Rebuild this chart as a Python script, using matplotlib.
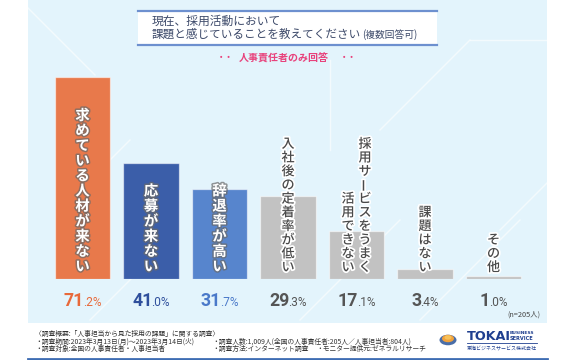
import matplotlib
matplotlib.use("Agg")
import matplotlib.pyplot as plt
import matplotlib.patheffects as pe
from matplotlib.patches import Rectangle, Circle
from matplotlib.lines import Line2D

plt.rcParams['font.family'] = ['Noto Sans CJK JP', 'DejaVu Sans']

# ---- data ----
categories = ["求めている人材が来ない", "応募が来ない", "辞退率が高い", "入社後の定着率が低い",
              "採用サービスをうまく\n活用できない", "課題はない", "その他"]
values = [71.2, 41.0, 31.7, 29.3, 17.1, 3.4, 1.0]
bar_colors = ["#e8794b", "#3b5ea9", "#5785cd", "#c2c2c2", "#c2c2c2", "#c2c2c2", "#c2c2c2"]
pct_colors = ["#e8693a", "#2f4f9c", "#4a79c9", "#555555", "#555555", "#555555", "#555555"]
title_lines = ["現在、採用活動において", "課題と感じていることを教えてください"]
title_note = "(複数回答可)"
subtitle = "人事責任者のみ回答"
n_note = "(n=205人)"
footer = ["〈調査概要:「人事担当から見た採用の課題」に関する調査〉",
          "・調査期間:2023年3月13日(月)～2023年3月14日(火)",
          "・調査対象:全国の人事責任者・人事担当者",
          "・調査人数:1,009人(全国の人事責任者:205人／人事担当者:804人)",
          "・調査方法:インターネット調査",
          "・モニター提供元:ゼネラルリサーチ"]

W, H = 580, 360
fig = plt.figure(figsize=(W / 100, H / 100), dpi=100, facecolor="white")

def fx(x):
    return x / W

def fy(y):
    return 1 - y / H

# background panel
fig.patches.append(Rectangle((fx(28), fy(323)), fx(547) - fx(28), fy(0) - fy(323),
                             transform=fig.transFigure, facecolor="#e3f4fc", edgecolor="none", zorder=-3))
# faint circuit-like lines
for (x0, y0, x1, y1) in [(28, 8, 95, 75), (60, 210, 130, 140), (380, 130, 470, 40), (470, 40, 547, 40),
                         (300, 320, 400, 220), (420, 320, 520, 220), (500, 230, 547, 183),
                         (90, 320, 150, 260), (330, 150, 330, 60), (200, 40, 330, 40)]:
    fig.add_artist(Line2D([fx(x0), fx(x1)], [fy(y0), fy(y1)], transform=fig.transFigure,
                          color="white", lw=1.0, alpha=0.6, zorder=-2))
# bottom blue line
fig.add_artist(Line2D([fx(28), fx(547)], [fy(358.5), fy(358.5)], transform=fig.transFigure,
                      color="#3e6db3", lw=2.0, zorder=1))

# title box
fig.patches.append(Rectangle((fx(138), fy(45)), fx(437) - fx(138), fy(11) - fy(45),
                             transform=fig.transFigure, facecolor="white", edgecolor="none", zorder=1))
for yy in (11, 45):
    fig.add_artist(Line2D([fx(138), fx(437)], [fy(yy), fy(yy)], transform=fig.transFigure,
                          color="#6d90cf", lw=1.6, zorder=2))
title_col = "#3d4a6a"
fig.text(fx(152), fy(21), title_lines[0], fontsize=8.5, color=title_col, va="center", ha="left", zorder=3)
fig.text(fx(152), fy(34), title_lines[1], fontsize=8.35, color=title_col, va="center", ha="left", zorder=3)
fig.text(fx(362), fy(34.5), title_note, fontsize=7.0, color=title_col, va="center", ha="left", zorder=3)

pink = "#e8427c"
fig.text(fx(284), fy(59), subtitle, fontsize=7.2, color=pink, va="center", ha="center", fontweight="bold")
fig.text(fx(225), fy(58), "・・", fontsize=6, color=pink, va="center", ha="center", fontweight="bold")
fig.text(fx(348), fy(58), "・・", fontsize=6, color=pink, va="center", ha="center", fontweight="bold")

# ---- chart axes ----
ax = fig.add_axes([fx(48.25), fy(279), 479.5 / W, 219 / H])
ax.set_zorder(1)
ax.set_xlim(-0.5, len(values) - 0.5)
ax.set_ylim(0, 77.3)
ax.axis("off")
ax.patch.set_alpha(0)

xs = list(range(len(values)))
ax.bar(xs, values, width=0.803, color=bar_colors, edgecolor=(1, 1, 1, 0.55), linewidth=0.9, zorder=2)

# vertical labels
for i, lab in enumerate(categories):
    colored = i < 3
    cols = lab.split("\n")
    pitch = 15.1 if colored else 13.7
    fs = 10.3 if colored else 9.4
    if colored:
        kw = dict(color="white", fontweight="bold",
                  path_effects=[pe.Stroke(linewidth=2.2, foreground="#6a6a6a", alpha=0.7), pe.Normal()])
    else:
        kw = dict(color="#4a4a4a", fontweight="medium",
                  path_effects=[pe.Stroke(linewidth=2.5, foreground="white"), pe.Normal()])
    ncol = len(cols)
    for c, text in enumerate(cols):
        dx = 0 if ncol == 1 else (8.5 - 17 * c)
        chars = list(text)
        n = len(chars)
        for k, ch in enumerate(chars):
            from_bottom = n - 1 - k
            ax.annotate(ch, xy=(i, 0), xycoords="data",
                        xytext=(dx, 4.5 + pitch * (from_bottom + 0.5)), textcoords="offset pixels",
                        ha="center", va="center", fontsize=fs,
                        rotation=90 if ch == "ー" else 0, zorder=4, annotation_clip=False, **kw)

# percentage labels (large integer part + small decimal part)
pct_texts = []
base_off = -27.5
tight = 1.0
for i, v in enumerate(values):
    s = f"{v:.1f}%"
    ip, dp = s.split(".")
    t1 = ax.annotate(ip, xy=(i, 0), xycoords="data", xytext=(0, base_off), textcoords="offset pixels",
                     ha="right", va="baseline", fontsize=12.8, fontweight="bold", color=pct_colors[i],
                     family=["Roboto", "DejaVu Sans"], annotation_clip=False, zorder=5)
    t2 = ax.annotate("." + dp, xy=(i, 0), xycoords="data", xytext=(0, base_off), textcoords="offset pixels",
                     ha="left", va="baseline", fontsize=8.6, color=pct_colors[i],
                     family=["Roboto", "DejaVu Sans"], annotation_clip=False, zorder=5)
    pct_texts.append((t1, t2))

fig.canvas.draw()
renderer = fig.canvas.get_renderer()
for t1, t2 in pct_texts:
    w1 = t1.get_window_extent(renderer).width
    w2 = t2.get_window_extent(renderer).width - tight
    shift = (w1 - w2) / 2
    t1.xyann = (shift, base_off)
    t2.xyann = (shift - tight, base_off)

fig.text(fx(540), fy(315), n_note, fontsize=5.3, color="#444444", ha="right", va="center")

# footer
fcol = "#333333"
fs_f = 4.9
fig.text(fx(35), fy(333.5), footer[0], fontsize=fs_f, color=fcol, va="center")
fig.text(fx(35), fy(341.5), footer[1], fontsize=fs_f, color=fcol, va="center")
fig.text(fx(35), fy(348.5), footer[2], fontsize=fs_f, color=fcol, va="center")
fig.text(fx(212), fy(341.5), footer[3], fontsize=fs_f, color=fcol, va="center")
fig.text(fx(212), fy(348.5), footer[4], fontsize=fs_f, color=fcol, va="center")
fig.text(fx(316), fy(348.5), footer[5], fontsize=fs_f, color=fcol, va="center")

# logo
fig.patches.append(Circle((fx(448), fy(340)), 8.5 / W, transform=fig.transFigure,
                          facecolor="#4a6ea8", edgecolor="none", zorder=3))
fig.patches.append(Circle((fx(448), fy(338.5)), 6 / W, transform=fig.transFigure,
                          facecolor="#f2a23a", edgecolor="none", zorder=4))
fig.patches.append(Circle((fx(448), fy(337.5)), 3.5 / W, transform=fig.transFigure,
                          facecolor="#f7c25a", edgecolor="none", zorder=5))
navy = "#1f3f8f"
fig.text(fx(467), fy(336), "TOKAI", fontsize=9.2, fontweight="heavy", color=navy, va="center",
         family=["DejaVu Sans"])
fig.text(fx(510), fy(333.5), "BUSINESS", fontsize=3.2, fontweight="bold", color=navy, va="center",
         family=["DejaVu Sans"])
fig.text(fx(510), fy(338.5), "SERVICE", fontsize=3.6, fontweight="bold", color=navy, va="center",
         family=["DejaVu Sans"])
fig.add_artist(Line2D([fx(467), fx(537)], [fy(343), fy(343)], transform=fig.transFigure,
                      color=navy, lw=0.6))
fig.text(fx(467), fy(348.5), "東海ビジネスサービス株式会社", fontsize=3.6, color=navy, va="center")

fig.savefig("out.png", dpi=100, facecolor="white")
